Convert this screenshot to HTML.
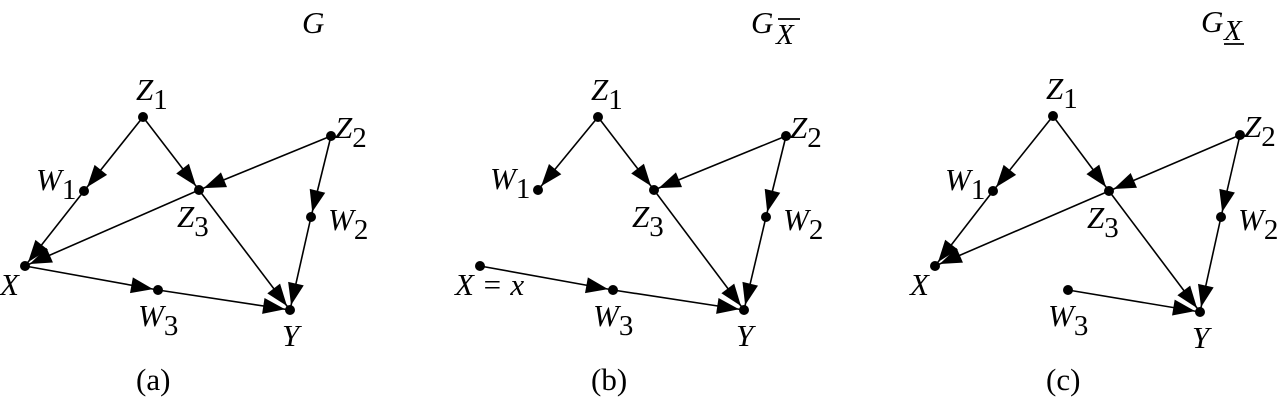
<!DOCTYPE html>
<html><head><meta charset="utf-8"><style>
body{margin:0;background:#fff;width:1280px;height:402px;overflow:hidden}
svg text{font-family:"Liberation Serif",serif;fill:#000}
.i{font-style:italic}
</style></head><body>
<svg id="s" width="1280" height="402" xmlns="http://www.w3.org/2000/svg">
<g font-size="31">
<text class="i" x="302" y="33">G</text>
<text class="i" x="751" y="33">G</text><text class="i" x="776" y="44" font-size="29">X</text>
<line x1="778" y1="19" x2="800" y2="19" stroke="#000" stroke-width="1.8"/>
<text class="i" x="1201" y="32">G</text><text class="i" x="1224" y="40" font-size="29">X</text>
<line x1="1224" y1="44" x2="1244" y2="44" stroke="#000" stroke-width="1.8"/>
<text x="136" y="390" font-size="31">(a)</text>
<text x="591" y="390" font-size="31">(b)</text>
<text x="1046" y="390" font-size="31">(c)</text>
</g>
</svg>
<script>
const s=document.getElementById('s'),NS='http://www.w3.org/2000/svg';
function el(t,a,txt){const e=document.createElementNS(NS,t);for(const k in a)e.setAttribute(k,a[k]);if(txt)e.textContent=txt;s.appendChild(e);return e;}
function lab(x,y,m,sub){const t=el('text',{x:x,y:y,'font-size':31});const a=document.createElementNS(NS,'tspan');a.setAttribute('class','i');a.textContent=m;t.appendChild(a);if(sub){const b=document.createElementNS(NS,'tspan');b.setAttribute('dy','9');b.setAttribute('font-size','29');b.textContent=sub;t.appendChild(b);}}
function arrow(p,q,arr){const dx=q[0]-p[0],dy=q[1]-p[1],L=Math.hypot(dx,dy),ux=dx/L,uy=dy/L;
 el('line',{x1:p[0],y1:p[1],x2:q[0],y2:q[1],stroke:'#000','stroke-width':1.6});
 if(!arr)return;const tx=q[0]-ux*5,ty=q[1]-uy*5,bx=tx-ux*22,by=ty-uy*22,w=8;
 el('polygon',{points:`${tx},${ty} ${bx-uy*w},${by+ux*w} ${bx+uy*w},${by-ux*w}`,fill:'#000'});}
function panel(N,edges,xlab){
 for(const e of edges)arrow(N[e[0]],N[e[1]],true);
 for(const k in N)el('circle',{cx:N[k][0],cy:N[k][1],r:5,fill:'#000'});
 lab(N.Z1[0]-7,N.Z1[1]-17,'Z','1');lab(N.Z2[0]+4,N.Z2[1]+2,'Z','2');
 lab(N.W1[0]-48,N.W1[1]-1,'W','1');lab(N.Z3[0]-22,N.Z3[1]+37,'Z','3');
 lab(N.W2[0]+17,N.W2[1]+13,'W','2');lab(N.W3[0]-20,N.W3[1]+36,'W','3');
 lab(N.Y[0]-8,N.Y[1]+36,'Y');
 if(xlab)el('text',{x:N.X[0]-25,y:N.X[1]+29,'font-size':31,'font-style':'italic'},xlab);
}
panel({Z1:[143,117],Z2:[331,136],W1:[84,191],Z3:[199,190],W2:[311,217],X:[25,266],W3:[158,290],Y:[290,310]},
 [['Z1','W1'],['Z1','Z3'],['Z2','Z3'],['Z2','W2'],['W1','X'],['Z3','X'],['X','W3'],['W3','Y'],['Z3','Y'],['W2','Y']],'X');
panel({Z1:[598,117],Z2:[786,136],W1:[538,190],Z3:[654,190],W2:[766,217],X:[480,266],W3:[613,290],Y:[744,310]},
 [['Z1','W1'],['Z1','Z3'],['Z2','Z3'],['Z2','W2'],['X','W3'],['W3','Y'],['Z3','Y'],['W2','Y']],null);
el('text',{x:455,y:295,'font-size':31,'font-style':'italic'},'X = x');
panel({Z1:[1053,116],Z2:[1240,135],W1:[993,191],Z3:[1109,191],W2:[1221,217],X:[935,266],W3:[1068,290],Y:[1200,312]},
 [['Z1','W1'],['Z1','Z3'],['Z2','Z3'],['Z2','W2'],['W1','X'],['Z3','X'],['W3','Y'],['Z3','Y'],['W2','Y']],'X');
</script>
</body></html>
